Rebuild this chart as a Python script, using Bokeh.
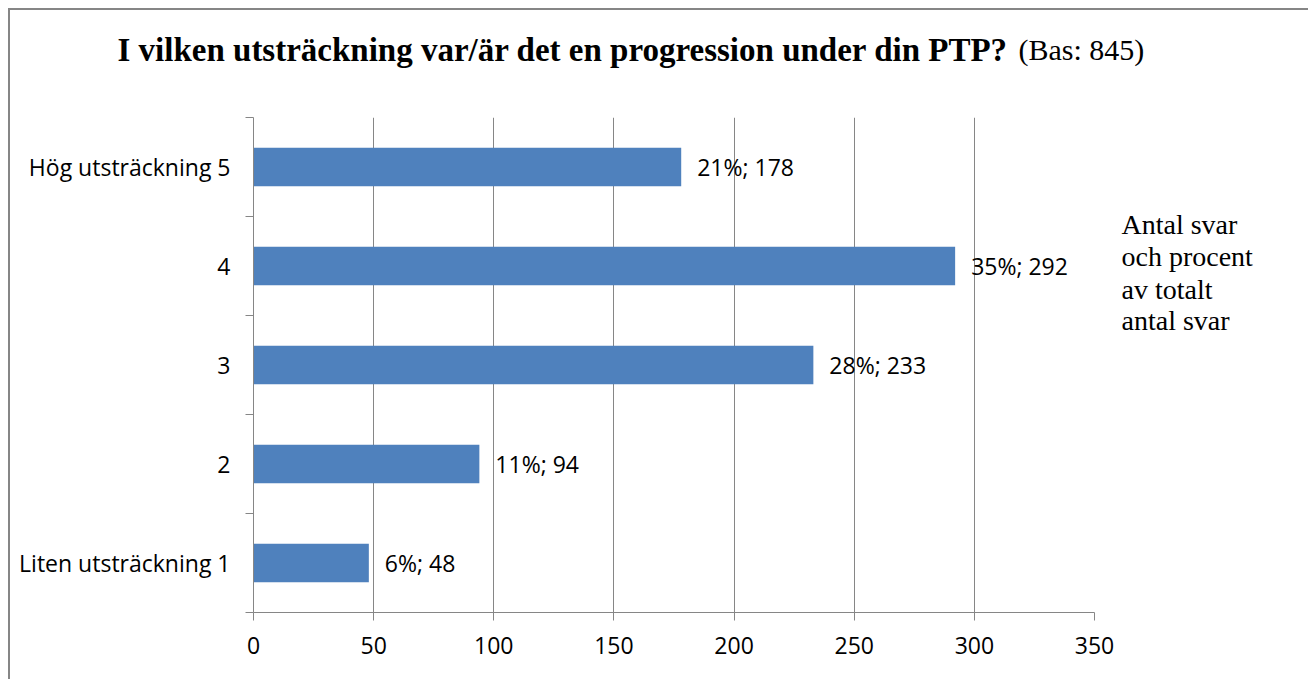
from bokeh.plotting import figure
from bokeh.models import Range1d, FixedTicker, Label, ColumnDataSource, LinearAxis
from bokeh.layouts import column
from bokeh.core.properties import value
from bokeh.embed import file_html
from bokeh.resources import INLINE

# ---- data ----
categories = ["Liten utsträckning 1", "2", "3", "4", "Hög utsträckning 5"]
counts = [48, 94, 233, 292, 178]
percents = [6, 11, 28, 35, 21]
x_ticks = [0, 50, 100, 150, 200, 250, 300, 350]
title_main = "I vilken utsträckning var/är det en progression under din PTP?"
title_base = "(Bas: 845)"
legend_lines = ["Antal svar", "och procent", "av totalt", "antal svar"]

ys = [i + 0.5 for i in range(len(categories))]
labels = [f"{pc}%; {c}" for pc, c in zip(percents, counts)]
src = ColumnDataSource(dict(y=ys, right=counts, label=labels))

GRAY = "#868686"
SANS = "Open Sans"
SERIF = "Liberation Serif"
W = 1298
HEAD_H = 80
MAIN_H = 669 - HEAD_H

# ---- header (title) ----
head = figure(width=W, height=HEAD_H, x_range=Range1d(0, W), y_range=Range1d(0, HEAD_H),
              output_backend="svg", toolbar_location=None,
              min_border=0, min_border_left=0, min_border_right=0,
              min_border_top=0, min_border_bottom=0,
              background_fill_color="white", border_fill_color="white")
head.frame_align = False
head.axis.visible = False
head.grid.visible = False
head.outline_line_color = None
head.add_layout(Label(x=107, y=41, text=title_main, text_font=SERIF, text_baseline="alphabetic",
                      text_font_style="bold", text_font_size="33px", text_color="black"))
head.add_layout(Label(x=1008, y=41, text=title_base, text_font=SERIF, text_baseline="alphabetic",
                      text_font_size="30px", text_color="black"))

# ---- main chart ----
p = figure(width=W, height=MAIN_H,
           x_range=Range1d(0, 350), y_range=Range1d(0, len(categories)),
           output_backend="svg", toolbar_location=None,
           min_border_left=243, min_border_right=214,
           min_border_top=117 - 10 - HEAD_H, min_border_bottom=67,
           background_fill_color="white", border_fill_color="white")
p.frame_align = False
p.outline_line_color = None

# x axis
p.xaxis.ticker = FixedTicker(ticks=x_ticks)
p.xaxis.axis_line_color = GRAY
p.xaxis.major_tick_line_color = GRAY
p.xaxis.major_tick_in = 0
p.xaxis.major_tick_out = 8
p.xaxis.minor_tick_line_color = None
p.xaxis.major_label_text_font = SANS
p.xaxis.major_label_text_font_size = "23px"
p.xaxis.major_label_text_color = "black"
p.xaxis.major_label_standoff = 16

# y axis
p.yaxis.ticker = FixedTicker(ticks=ys, minor_ticks=list(range(len(categories) + 1)))
p.yaxis.major_label_overrides = {y: c for y, c in zip(ys, categories)}
p.yaxis.axis_line_color = GRAY
p.yaxis.major_tick_line_color = None
p.yaxis.major_tick_in = 0
p.yaxis.major_tick_out = 0
p.yaxis.minor_tick_line_color = GRAY
p.yaxis.minor_tick_in = 0
p.yaxis.minor_tick_out = 8
p.yaxis.major_label_text_font = SANS
p.yaxis.major_label_text_font_size = "23px"
p.yaxis.major_label_text_color = "black"
p.yaxis.major_label_standoff = 15

# right-hand legend text as an unlined right axis
legend_pos = [3.919, 3.596, 3.263, 2.949]
raxis = LinearAxis(ticker=FixedTicker(ticks=legend_pos, minor_ticks=[]),
                   major_label_overrides={y: t for y, t in zip(legend_pos, legend_lines)},
                   axis_line_color=None, major_tick_line_color=None,
                   minor_tick_line_color=None, major_tick_in=0, major_tick_out=0,
                   major_label_standoff=27, major_label_text_font=SERIF,
                   major_label_text_font_size="28px", major_label_text_color="black")
p.add_layout(raxis, "right")

# grid
p.xgrid.ticker = FixedTicker(ticks=x_ticks)
p.xgrid.grid_line_color = GRAY
p.ygrid.grid_line_color = None

# bars
p.hbar(y="y", right="right", left=0, height=0.39, source=src,
       fill_color="#4F81BD", line_color=None)
p.text(x="right", y="y", text="label", source=src, x_offset=16,
       text_baseline="middle", text_align="left",
       text_font=value(SANS), text_font_size="23px", text_color="black")

layout = column(head, p, spacing=0)
layout.styles = {"border-left": f"2px solid {GRAY}", "border-top": f"2px solid {GRAY}",
                 "margin-left": "8px", "margin-top": "8px"}

open("out.html", "w").write(file_html(layout, INLINE))
